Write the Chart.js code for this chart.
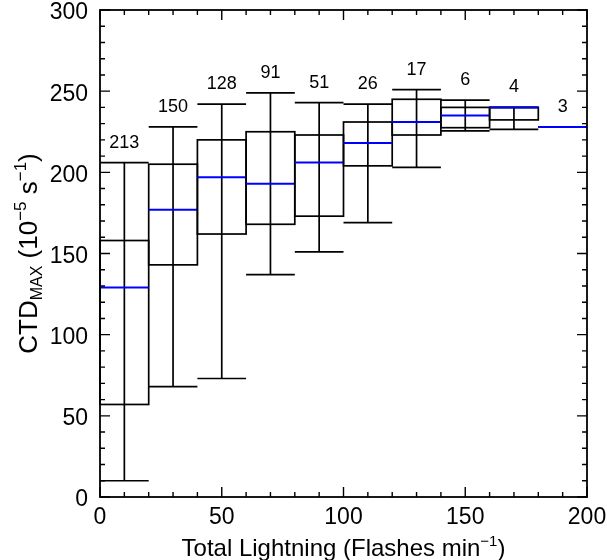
<!DOCTYPE html>
<html><head><meta charset="utf-8">
<script src="https://cdn.jsdelivr.net/npm/chart.js@4.4.1/dist/chart.umd.min.js"></script>
<style>html,body{margin:0;padding:0;background:#fff;}canvas{display:block;}</style>
</head><body>
<canvas id="c" width="607" height="560"></canvas>
<script>
// ---- data ----
const binStart    = [0, 20, 40, 60, 80, 100, 120, 140, 160, 180];
const binEnd      = [20, 40, 60, 80, 100, 120, 140, 160, 180, 200];
const counts      = [213, 150, 128, 91, 51, 26, 17, 6, 4, 3];
const whiskerLow  = [10, 68, 73, 137, 151, 169, 203, 225.5, 226.5, 228];
const q1          = [57, 143, 162, 168, 173, 204, 223, 227.5, 232.3, 228];
const medians     = [129, 177, 197, 193, 206, 218, 231, 235, 240, 228];
const q3          = [158, 205, 220, 225, 223, 231, 245, 240, 240, 228];
const whiskerHigh = [206, 228, 242, 249, 243, 242, 251, 244.5, 240, 228];
const xTicks = [0, 50, 100, 150, 200];
const yTicks = [0, 50, 100, 150, 200, 250, 300];
const minorStep = 10;

const FONT = '"Liberation Sans", Arial, Helvetica, sans-serif';

function drawRich(ctx, parts, x, y, align) {
  let total = 0;
  parts.forEach(p => { ctx.font = p[1] + 'px ' + FONT; total += ctx.measureText(p[0]).width; });
  let cx = align === 'center' ? x - total / 2 : x;
  ctx.textAlign = 'left';
  ctx.textBaseline = 'alphabetic';
  parts.forEach(p => {
    ctx.font = p[1] + 'px ' + FONT;
    ctx.fillText(p[0], cx, y + p[2]);
    cx += ctx.measureText(p[0]).width;
  });
}

const boxPlugin = {
  id: 'boxes',
  afterDatasetsDraw(chart) {
    const ctx = chart.ctx, xs = chart.scales.x, ys = chart.scales.y, a = chart.chartArea;
    ctx.save();
    ctx.lineCap = 'butt';
    for (let i = 0; i < binStart.length; i++) {
      const x0 = xs.getPixelForValue(binStart[i]);
      const x1 = xs.getPixelForValue(binEnd[i]);
      const xc = (x0 + x1) / 2;
      const yLo = ys.getPixelForValue(whiskerLow[i]);
      const yQ1 = ys.getPixelForValue(q1[i]);
      const yMed = ys.getPixelForValue(medians[i]);
      const yQ3 = ys.getPixelForValue(q3[i]);
      const yHi = ys.getPixelForValue(whiskerHigh[i]);
      ctx.strokeStyle = '#000';
      ctx.lineWidth = 1.7;
      ctx.beginPath();
      ctx.moveTo(xc, yLo); ctx.lineTo(xc, yHi);
      ctx.moveTo(x0, yLo); ctx.lineTo(x1, yLo);
      ctx.moveTo(x0, yHi); ctx.lineTo(x1, yHi);
      ctx.stroke();
      ctx.strokeRect(x0, yQ3, x1 - x0, yQ1 - yQ3);
      ctx.strokeStyle = '#0000ff';
      ctx.lineWidth = 2;
      ctx.beginPath();
      ctx.moveTo(x0, yMed); ctx.lineTo(x1, yMed);
      ctx.stroke();
      ctx.fillStyle = '#000';
      ctx.font = '18px ' + FONT;
      ctx.textAlign = 'center';
      ctx.textBaseline = 'alphabetic';
      ctx.fillText(String(counts[i]), xc, yHi - 15);
    }
    ctx.strokeStyle = '#000';
    ctx.lineWidth = 1.8;
    ctx.strokeRect(a.left, a.top, a.right - a.left, a.bottom - a.top);
    ctx.lineWidth = 1.4;
    ctx.beginPath();
    for (let v = xs.min; v <= xs.max; v += minorStep) {
      const px = xs.getPixelForValue(v);
      const len = xTicks.includes(v) ? 10 : 5;
      ctx.moveTo(px, a.bottom); ctx.lineTo(px, a.bottom - len);
      ctx.moveTo(px, a.top); ctx.lineTo(px, a.top + len);
    }
    for (let v = ys.min; v <= ys.max; v += minorStep) {
      const py = ys.getPixelForValue(v);
      const len = yTicks.includes(v) ? 10 : 5;
      ctx.moveTo(a.left, py); ctx.lineTo(a.left + len, py);
      ctx.moveTo(a.right, py); ctx.lineTo(a.right - len, py);
    }
    ctx.stroke();
    ctx.restore();
  },
  afterDraw(chart) {
    const ctx = chart.ctx, a = chart.chartArea;
    ctx.save();
    ctx.fillStyle = '#000';
    drawRich(ctx, [
      ['Total Lightning (Flashes min', 24, 0],
      ['\u22121', 15, -10],
      [')', 24, 0]
    ], (a.left + a.right) / 2, 556, 'center');
    ctx.translate(37, (a.top + a.bottom) / 2);
    ctx.rotate(-Math.PI / 2);
    drawRich(ctx, [
      ['CTD', 26, 0],
      ['MAX', 16, 5],
      [' (10', 26, 0],
      ['\u22125', 17, -11],
      [' s', 26, 0],
      ['\u22121', 17, -11],
      [')', 26, 0]
    ], 0, 0, 'center');
    ctx.restore();
  }
};

function noPad(s) { s.paddingTop = 0; s.paddingBottom = 0; s.paddingLeft = 0; s.paddingRight = 0; }

new Chart(document.getElementById('c'), {
  type: 'scatter',
  data: { datasets: [{ data: [], pointRadius: 0 }] },
  options: {
    responsive: false,
    animation: false,
    devicePixelRatio: 1,
    layout: { padding: { top: 10, right: 20, left: 0, bottom: 0 } },
    plugins: { legend: { display: false }, tooltip: { enabled: false } },
    scales: {
      x: {
        type: 'linear', min: 0, max: 200,
        grid: { display: false, drawTicks: false },
        border: { display: false },
        ticks: { stepSize: 50, padding: 9, color: '#000', maxRotation: 0,
                 font: { family: FONT, size: 23, lineHeight: 1 } },
        afterFit(s) { s.height = 63; noPad(s); }
      },
      y: {
        type: 'linear', min: 0, max: 300,
        grid: { display: false, drawTicks: false },
        border: { display: false },
        ticks: { stepSize: 50, padding: 12, labelOffset: 3, color: '#000',
                 font: { family: FONT, size: 23, lineHeight: 1 } },
        afterFit(s) { s.width = 100; noPad(s); }
      }
    }
  },
  plugins: [boxPlugin]
});
</script>
</body></html>
